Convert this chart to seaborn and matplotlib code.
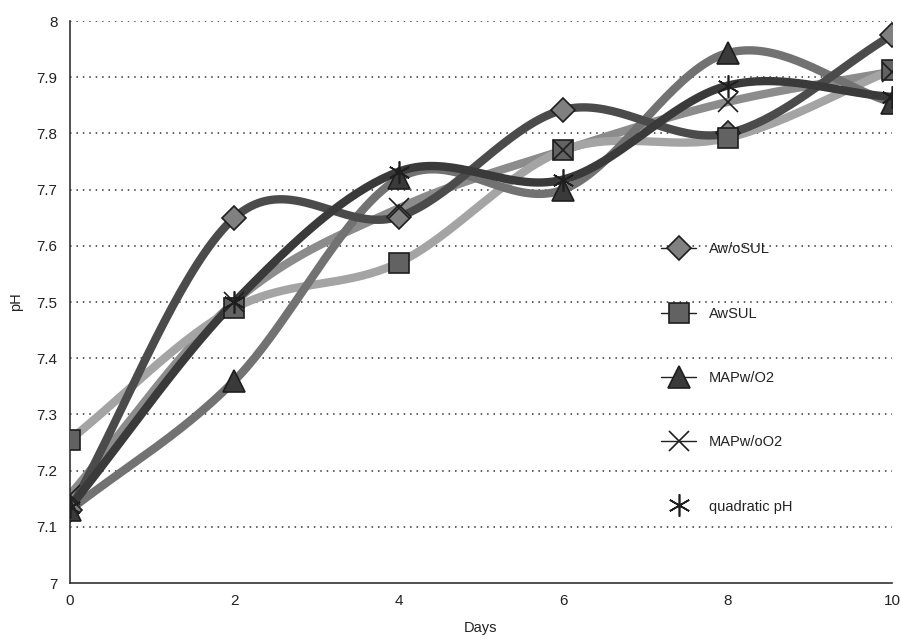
"""pH over storage days, five series, drawn like a smoothed spreadsheet chart."""

import matplotlib
matplotlib.use("Agg")
import matplotlib.pyplot as plt
from matplotlib.lines import Line2D
import numpy as np
import pandas as pd
import seaborn as sns

days = [0, 2, 4, 6, 8, 10]
aw_osul = [7.13, 7.65, 7.652, 7.842, 7.80, 7.975]
aw_sul = [7.255, 7.489, 7.570, 7.770, 7.792, 7.913]
map_w_o2 = [7.13, 7.36, 7.72, 7.70, 7.943, 7.855]
map_wo_o2 = [7.157, 7.50, 7.667, 7.770, 7.856, 7.910]
quadratic_ph = [7.135, 7.50, 7.732, 7.718, 7.885, 7.865]

series_names = ["Aw/oSUL", "AwSUL", "MAPw/O2", "MAPw/oO2", "quadratic pH"]
y_ticks = [7, 7.1, 7.2, 7.3, 7.4, 7.5, 7.6, 7.7, 7.8, 7.9, 8]
x_ticks = [0, 2, 4, 6, 8, 10]

ASTERISK = (6, 2, 0)
styles = {
    "Aw/oSUL": dict(line="#4b4b4b", marker="D", face="#808080", ms=12),
    "AwSUL": dict(line="#a4a4a4", marker="s", face="#626262", ms=15),
    "MAPw/O2": dict(line="#727272", marker="^", face="#3a3a3a", ms=16),
    "MAPw/oO2": dict(line="#8c8c8c", marker="x", face="#1a1a1a", ms=15),
    "quadratic pH": dict(line="#3a3a3a", marker=ASTERISK, face="#1a1a1a", ms=16),
}


def smooth(xs, ys, steps=40):
    """Catmull-Rom curve through the points (what a spreadsheet 'smoothed line' draws)."""
    x = np.asarray(xs, float)
    y = np.asarray(ys, float)
    px = np.r_[2 * x[0] - x[1], x, 2 * x[-1] - x[-2]]
    py = np.r_[2 * y[0] - y[1], y, 2 * y[-1] - y[-2]]
    out_x, out_y = [], []
    t = np.linspace(0, 1, steps, endpoint=False)
    for i in range(1, len(px) - 2):
        for arr, out in ((px, out_x), (py, out_y)):
            p0, p1, p2, p3 = arr[i - 1], arr[i], arr[i + 1], arr[i + 2]
            out.extend(0.5 * ((2 * p1) + (-p0 + p2) * t
                              + (2 * p0 - 5 * p1 + 4 * p2 - p3) * t ** 2
                              + (-p0 + 3 * p1 - 3 * p2 + p3) * t ** 3))
    out_x.append(x[-1])
    out_y.append(y[-1])
    return out_x, out_y


sns.set_theme(style="white")
plt.rcParams["font.family"] = ["Liberation Sans", "DejaVu Sans"]

df = pd.DataFrame({"day": days, "Aw/oSUL": aw_osul, "AwSUL": aw_sul,
                   "MAPw/O2": map_w_o2, "MAPw/oO2": map_wo_o2,
                   "quadratic pH": quadratic_ph})

fig = plt.figure(figsize=(9.01, 6.39), dpi=100)
ax = fig.add_axes([0.0777, 0.0876, 0.9123, 0.8795])

for y in y_ticks[1:]:
    ax.axhline(y, color="#333333", lw=1.1, ls=(0, (1, 3.2)), zorder=1)

line_order = ["MAPw/oO2", "AwSUL", "MAPw/O2", "Aw/oSUL", "quadratic pH"]
for name in line_order:
    sx, sy = smooth(df["day"], df[name])
    sns.lineplot(x=sx, y=sy, ax=ax, color=styles[name]["line"], lw=6,
                 sort=False, solid_capstyle="round", zorder=2)

for name in series_names:
    st = styles[name]
    ax.plot(df["day"], df[name], ls="none", marker=st["marker"], ms=st["ms"],
            mfc=st["face"], mec="#1e1e1e", mew=1.2, zorder=3)

ax.set_xlim(0, 10)
ax.set_ylim(7, 8)
ax.set_xticks(x_ticks)
ax.set_yticks(y_ticks)
ax.set_yticklabels([f"{v:g}" for v in y_ticks])
ax.tick_params(axis="both", direction="out", length=6, width=1.2,
               color="#333333", labelsize=11, labelcolor="#222222", pad=3)
ax.tick_params(axis="x", length=5)
for side in ("top", "right"):
    ax.spines[side].set_visible(False)
for side in ("left", "bottom"):
    ax.spines[side].set_color("#333333")
    ax.spines[side].set_linewidth(1.2)
ax.set_xlabel("Days", fontsize=10.5, color="#222222", labelpad=9)
ax.set_ylabel("pH", fontsize=10.5, color="#222222", labelpad=10)

handles = []
for name in series_names:
    st = styles[name]
    handles.append(Line2D([], [], color="#222222", lw=1.0,
                          ls="-" if name != "quadratic pH" else "none",
                          marker=st["marker"], ms=st["ms"], mfc=st["face"],
                          mec="#1e1e1e", mew=1.2))
ax.legend(handles, series_names, loc="upper left",
          bbox_to_anchor=(654 / 901, 1 - 235 / 639), bbox_transform=fig.transFigure,
          frameon=False, fontsize=10.5, labelspacing=3.45, handlelength=2.4,
          handletextpad=0.85, borderpad=0, labelcolor="#222222")

fig.savefig("out.png", dpi=100)
plt.close(fig)
